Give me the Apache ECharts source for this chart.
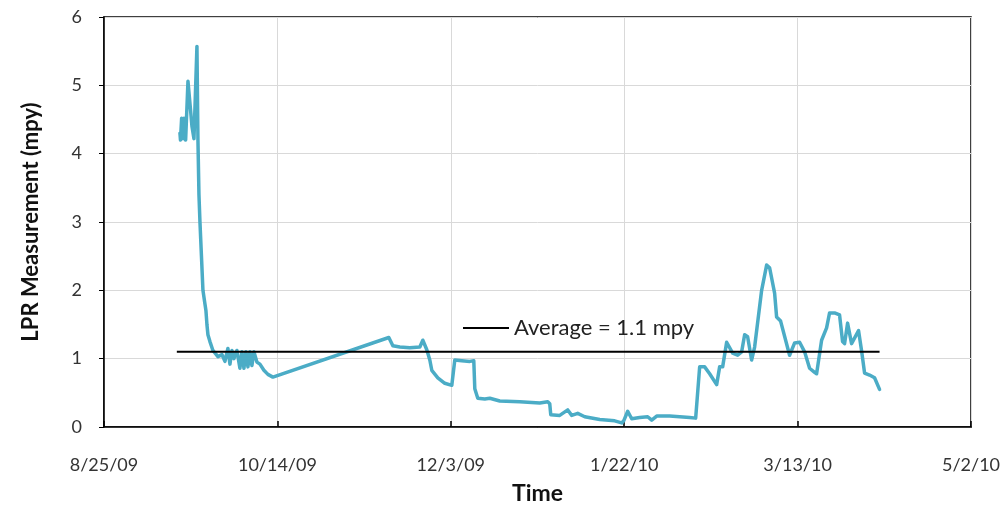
<!DOCTYPE html>
<html>
<head>
<meta charset="utf-8">
<script src="https://cdn.jsdelivr.net/npm/echarts@6/dist/echarts.min.js"></script>
<style>
  html, body { margin: 0; padding: 0; background: #fff; }
  #chart { width: 1004px; height: 506px; }
</style>
</head>
<body>
<div id="chart"></div>
<script>
// Days elapsed since 8/25/09 for each LPR reading
const days = [
  21.9, 22.05, 22.39, 22.77, 23.05, 23.54, 24.21, 24.99, 25.36, 25.94,
  26.8, 27.09, 27.38, 27.67, 28.1, 28.53, 29.11, 29.4, 29.68, 29.97,
  30.55, 31.41, 32.85, 34.01, 34.87, 35.73, 36.31, 36.89, 37.46, 38.33,
  39.19, 39.77, 40.35, 40.92, 41.5, 42.07, 42.65, 43.23, 44.09, 44.96,
  46.11, 47.26, 48.7,
  82.13, 83.29, 85.3, 88.18, 91.07, 91.93, 92.51, 93.08, 93.95, 94.52,
  96.25, 98.27, 100.29, 101.15, 103.17, 105.48, 106.63, 106.92, 107.78, 109.8,
  111.24, 114.12, 119.88, 125.65, 127.95, 128.53, 128.82, 131.41, 133.72, 134.87,
  136.6, 138.62, 142.94, 147.26, 149.28, 149.86, 151.01, 152.16, 154.47, 156.77,
  157.93, 159.37, 163.11, 168.88, 170.61, 171.76, 173.2, 174.64, 176.66, 177.52,
  178.39, 179.54, 181.27, 182.71, 183.86, 184.73, 185.59, 186.74, 187.61, 189.63,
  191.07, 191.93, 193.37, 193.95, 195.1, 197.69, 199.14, 200.58, 202.02, 203.46,
  204.9, 205.48, 206.92, 208.36, 209.22, 210.66, 212.1, 212.97, 213.54, 214.41,
  215.56, 217.58, 218.44, 219.31, 220.75, 222.19, 223.63
];

// LPR corrosion rate readings (mpy)
const lpr = [
  4.3, 4.2, 4.52, 4.22, 4.52, 4.2, 5.06, 4.62, 4.4, 4.22,
  5.57, 4.2, 3.4, 3.0, 2.5, 2.0, 1.8, 1.7, 1.5, 1.35,
  1.25, 1.12, 1.03, 1.06, 0.96, 1.15, 0.92, 1.12, 1.0, 1.12,
  0.86, 1.1, 0.86, 1.1, 0.88, 1.1, 0.9, 1.1, 0.95, 0.92,
  0.83, 0.77, 0.73,
  1.31, 1.19, 1.17, 1.16, 1.17, 1.27, 1.2, 1.13, 0.98, 0.83,
  0.72, 0.64, 0.61, 0.98, 0.97, 0.96, 0.97, 0.56, 0.42, 0.41,
  0.42, 0.38, 0.37, 0.35, 0.37, 0.34, 0.18, 0.17, 0.25, 0.17,
  0.2, 0.15, 0.11, 0.09, 0.06, 0.09, 0.23, 0.12, 0.14, 0.15,
  0.1, 0.16, 0.16, 0.14, 0.13, 0.88, 0.88, 0.78, 0.62, 0.88,
  0.88, 1.24, 1.08, 1.05, 1.1, 1.35, 1.32, 0.98, 1.17, 2.0,
  2.37, 2.33, 1.96, 1.61, 1.55, 1.05, 1.23, 1.24, 1.1, 0.86,
  0.8, 0.78, 1.27, 1.45, 1.67, 1.67, 1.64, 1.25, 1.22, 1.52,
  1.22, 1.41, 1.12, 0.79, 0.76, 0.72, 0.55
];

const averageValue = 1.1;
const averageName = 'Average = 1.1 mpy';

// X tick labels, one per 50-day step from 8/25/09
const xTickLabels = ['8/25/09', '10/14/09', '12/3/09', '1/22/10', '3/13/10', '5/2/10'];

const lprData = days.map((d, i) => [d, lpr[i]]);
const avgData = [[days[0] - 0.9, averageValue], [days[days.length - 1], averageValue]];

const FONT = "Lato, 'Liberation Sans', sans-serif";

const chart = echarts.init(document.getElementById('chart'));
chart.setOption({
  animation: false,
  backgroundColor: '#ffffff',
  grid: {
    left: 104, right: 33, top: 17, bottom: 79,
    outerBoundsMode: 'none', containLabel: false,
    show: true, borderColor: '#000', borderWidth: 1.5, backgroundColor: 'transparent'
  },
  legend: {
    data: [{ name: averageName }],
    left: 458, top: 312,
    icon: 'rect', itemWidth: 46, itemHeight: 2, itemGap: 6,
    textStyle: { fontFamily: FONT, fontSize: 22, color: '#222' }
  },
  xAxis: {
    type: 'value', min: 0, max: 250, interval: 50,
    name: 'Time', nameLocation: 'middle', nameGap: 55,
    nameTextStyle: { fontFamily: FONT, fontSize: 23, fontWeight: 'bold', color: '#111' },
    axisLine: { lineStyle: { color: '#000', width: 1.5 } },
    axisTick: { inside: true, length: 6, lineStyle: { color: '#000', width: 1.5 } },
    axisLabel: {
      margin: 29, fontFamily: FONT, fontSize: 18, color: '#333',
      formatter: v => xTickLabels[Math.round(v / 50)]
    },
    splitLine: { show: true, lineStyle: { color: '#d9d9d9', width: 1 } }
  },
  yAxis: {
    type: 'value', min: 0, max: 6, interval: 1,
    name: 'LPR Measurement (mpy)', nameLocation: 'middle', nameGap: 62,
    nameTextStyle: { fontFamily: FONT, fontSize: 22, fontWeight: 'bold', color: '#111' },
    axisLine: { show: true, lineStyle: { color: '#000', width: 1.5 } },
    axisTick: { show: true, length: 5, lineStyle: { color: '#000', width: 1 } },
    axisLabel: { margin: 22, fontFamily: FONT, fontSize: 18, color: '#333' },
    splitLine: { show: true, lineStyle: { color: '#d9d9d9', width: 1 } }
  },
  series: [
    {
      name: 'LPR', type: 'line', data: lprData,
      showSymbol: false, symbol: 'none',
      lineStyle: { color: '#4bacc6', width: 3.5, join: 'round', cap: 'round' },
      z: 3
    },
    {
      name: averageName, type: 'line', data: avgData,
      showSymbol: false, symbol: 'none',
      itemStyle: { color: '#000' },
      lineStyle: { color: '#000', width: 2 },
      z: 4
    }
  ]
});
</script>
</body>
</html>
